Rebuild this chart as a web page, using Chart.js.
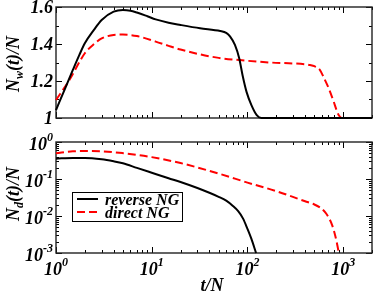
<!DOCTYPE html>
<html>
<head>
<meta charset="utf-8">
<script src="https://cdn.jsdelivr.net/npm/chart.js@4"></script>
<style>
  html, body { margin: 0; padding: 0; background: #fff; }
  #wrap { position: relative; width: 374px; height: 294px; }
  canvas { position: absolute; left: 0; }
</style>
</head>
<body>
<div id="wrap">
  <canvas id="topChart" width="374" height="130" style="top:0px"></canvas>
  <canvas id="botChart" width="374" height="164" style="top:130px"></canvas>
</div>
<script>
// top panel: N_w(t)/N
const tRevW = [1, 1.25, 1.5, 1.75, 2, 2.5, 3, 4, 5, 6, 7, 9, 11, 15, 20, 32, 52, 60, 66, 74, 82, 89, 98, 110, 125, 140, 200, 2000];
const nwRev = [1.043, 1.162, 1.26, 1.34, 1.404, 1.478, 1.53, 1.575, 1.584, 1.58, 1.57, 1.55, 1.533, 1.515, 1.503, 1.485, 1.47, 1.46, 1.44, 1.395, 1.323, 1.23, 1.14, 1.07, 1.016, 1.0, 1.0, 1.0];
const tDirW = [1, 1.38, 2, 2.5, 3, 4, 5, 7, 11, 15, 20, 32, 50, 83, 172, 300, 400, 450, 500, 570, 625, 700, 750, 800, 850, 900, 970, 2000];
const nwDir = [1.097, 1.205, 1.35, 1.40, 1.43, 1.449, 1.451, 1.443, 1.413, 1.39, 1.37, 1.344, 1.325, 1.313, 1.30, 1.295, 1.29, 1.286, 1.28, 1.26, 1.22, 1.165, 1.125, 1.085, 1.045, 1.015, 1.0, 1.0];

// bottom panel: N_d(t)/N
const tRevD = [1, 1.5, 2, 3, 4, 5, 7, 10, 15, 20, 30, 50, 60, 70, 80, 90, 100, 110, 123];
const ndRev = [0.355, 0.37, 0.37, 0.34, 0.30, 0.265, 0.2, 0.148, 0.105, 0.083, 0.057, 0.033, 0.026, 0.019, 0.0135, 0.0085, 0.0045, 0.0024, 0.001];
const tDirD = [1, 1.5, 2, 3, 5, 7, 10, 20, 50, 100, 200, 400, 500, 580, 650, 720, 770, 830, 870, 900];
const ndDir = [0.5, 0.56, 0.57, 0.56, 0.5, 0.45, 0.39, 0.27, 0.14, 0.08, 0.047, 0.025, 0.0205, 0.0165, 0.0125, 0.0083, 0.0055, 0.0028, 0.0016, 0.001];

// ticks
const xMajor = [1, 10, 100, 1000];
const xLabels = ["0", "1", "2", "3"];
const wMajor = [1, 1.2, 1.4, 1.6];
const wMinor = [1.1, 1.3, 1.5];
const wLabels = ["1", "1.2", "1.4", "1.6"];
const dMajor = [0.001, 0.01, 0.1, 1];
const dLabels = ["-3", "-2", "-1", "0"];

const legendNames = ["reverse NG", "direct NG"];

const SERIF = '"Liberation Serif", "DejaVu Serif", serif';
const font = px => "italic bold " + px + "px " + SERIF;

function logMinors(majors, maxVal) {
  const out = [];
  majors.forEach(m => {
    for (let k = 2; k <= 9; k++) if (m * k <= maxVal) out.push(m * k);
  });
  return out;
}
const xMinor = logMinors(xMajor, 2000);
const dMinor = logMinors(dMajor, 1);

const zip = (xs, ys) => xs.map((x, i) => ({ x: x, y: ys[i] }));

function drawPow(ctx, base, exp, x, y, align) {
  ctx.font = font(18);
  const bw = ctx.measureText(base).width;
  ctx.font = font(12);
  const ew = ctx.measureText(exp).width;
  const left = align === "right" ? x - bw - ew : x - (bw + ew) / 2;
  ctx.textAlign = "left";
  ctx.textBaseline = "alphabetic";
  ctx.font = font(18);
  ctx.fillText(base, left, y);
  ctx.font = font(12);
  ctx.fillText(exp, left + bw, y - 9);
}

function drawYTitle(ctx, sub, cx, cy) {
  const parts = [["N", 18, 0], [sub, 12, 4], ["(t)/N", 18, 0]];
  let total = 0;
  parts.forEach(p => { ctx.font = font(p[1]); total += ctx.measureText(p[0]).width; });
  ctx.save();
  ctx.translate(cx, cy);
  ctx.rotate(-Math.PI / 2);
  ctx.textAlign = "left";
  ctx.textBaseline = "alphabetic";
  let pos = -total / 2;
  parts.forEach(p => {
    ctx.font = font(p[1]);
    ctx.fillText(p[0], pos, p[2]);
    pos += ctx.measureText(p[0]).width;
  });
  ctx.restore();
}

function framePlugin(cfg) {
  return {
    id: "frame",
    beforeDatasetsDraw(chart) {
      const ctx = chart.ctx, a = chart.chartArea;
      const xs = chart.scales.x, ys = chart.scales.y;
      ctx.save();
      ctx.strokeStyle = "#000";
      ctx.lineWidth = 1;
      const tick = (x1, y1, x2, y2) => {
        ctx.beginPath(); ctx.moveTo(x1, y1); ctx.lineTo(x2, y2); ctx.stroke();
      };
      const xt = (vals, len) => vals.forEach(v => {
        const px = Math.round(xs.getPixelForValue(v)) + 0.5;
        tick(px, a.bottom, px, a.bottom - len);
        tick(px, a.top, px, a.top + len);
      });
      const yt = (vals, len) => vals.forEach(v => {
        const py = Math.round(ys.getPixelForValue(v)) + 0.5;
        tick(a.left, py, a.left + len, py);
        tick(a.right, py, a.right - len, py);
      });
      xt(xMajor, 6); xt(xMinor, 3);
      yt(cfg.yMajor, 6); yt(cfg.yMinor, 3);
      ctx.lineWidth = 1.4;
      ctx.strokeStyle = "#222";
      ctx.strokeRect(a.left, a.top, a.right - a.left, a.bottom - a.top);
      ctx.restore();
    },
    afterDraw(chart) {
      const ctx = chart.ctx, a = chart.chartArea;
      const xs = chart.scales.x, ys = chart.scales.y;
      ctx.save();
      ctx.fillStyle = "#000";
      cfg.yMajor.forEach((v, i) => {
        const py = ys.getPixelForValue(v);
        if (cfg.log) {
          drawPow(ctx, "10", cfg.yLabels[i], 53, py + 8, "right");
        } else {
          ctx.font = font(18);
          ctx.textAlign = "right";
          ctx.textBaseline = "alphabetic";
          ctx.fillText(cfg.yLabels[i], 53, py + 6);
        }
      });
      drawYTitle(ctx, cfg.sub, 19, cfg.titleY);
      if (cfg.xLabels) {
        xMajor.forEach((v, i) => {
          drawPow(ctx, "10", xLabels[i], xs.getPixelForValue(v), a.bottom + 22, "center");
        });
        ctx.font = font(18);
        ctx.textAlign = "center";
        ctx.textBaseline = "alphabetic";
        ctx.fillText("t/N", 212, a.bottom + 38);
      }
      if (cfg.legend) {
        const lx = 72, ly = 62;
        ctx.strokeStyle = "#000";
        ctx.lineWidth = 1;
        ctx.strokeRect(lx + 0.5, ly + 0.5, 110, 29);
        const ds = chart.data.datasets;
        legendNames.forEach((name, i) => {
          const y = ly + 7 + i * 13;
          ctx.beginPath();
          ctx.strokeStyle = ds[i].borderColor;
          ctx.lineWidth = 2;
          ctx.setLineDash(ds[i].borderDash || []);
          ctx.moveTo(lx + 5, y);
          ctx.lineTo(lx + 26, y);
          ctx.stroke();
          ctx.setLineDash([]);
          ctx.font = font(16);
          ctx.textAlign = "left";
          ctx.textBaseline = "alphabetic";
          ctx.fillStyle = "#000";
          ctx.fillText(name, lx + 33, y + 5.5);
        });
      }
      ctx.restore();
    }
  };
}

function lineSet(xs, ys, color, dash) {
  return {
    data: zip(xs, ys),
    borderColor: color,
    borderWidth: 2,
    borderDash: dash,
    pointRadius: 0,
    fill: false,
    cubicInterpolationMode: "monotone",
    clip: false
  };
}

function makeChart(id, datasets, yScale, padding, cfg) {
  return new Chart(document.getElementById(id), {
    type: "line",
    data: { datasets: datasets },
    options: {
      responsive: false,
      animation: false,
      layout: { padding: padding },
      plugins: { legend: { display: false }, tooltip: { enabled: false } },
      scales: {
        x: { type: "logarithmic", min: 1, max: 2000, display: false },
        y: Object.assign({ display: false }, yScale)
      }
    },
    plugins: [framePlugin(cfg)]
  });
}

makeChart("topChart",
  [lineSet(tRevW, nwRev, "#000000", []), lineSet(tDirW, nwDir, "#ff0000", [8, 4])],
  { type: "linear", min: 1, max: 1.6 },
  { left: 56, right: 2, top: 7, bottom: 12 },
  { yMajor: wMajor, yMinor: wMinor, yLabels: wLabels, log: false, sub: "w", titleY: 64 });

makeChart("botChart",
  [lineSet(tRevD, ndRev, "#000000", []), lineSet(tDirD, ndDir, "#ff0000", [8, 4])],
  { type: "logarithmic", min: 0.001, max: 1 },
  { left: 56, right: 2, top: 12, bottom: 41 },
  { yMajor: dMajor, yMinor: dMinor, yLabels: dLabels, log: true, sub: "d", titleY: 64, xLabels: true, legend: true });
</script>
</body>
</html>
